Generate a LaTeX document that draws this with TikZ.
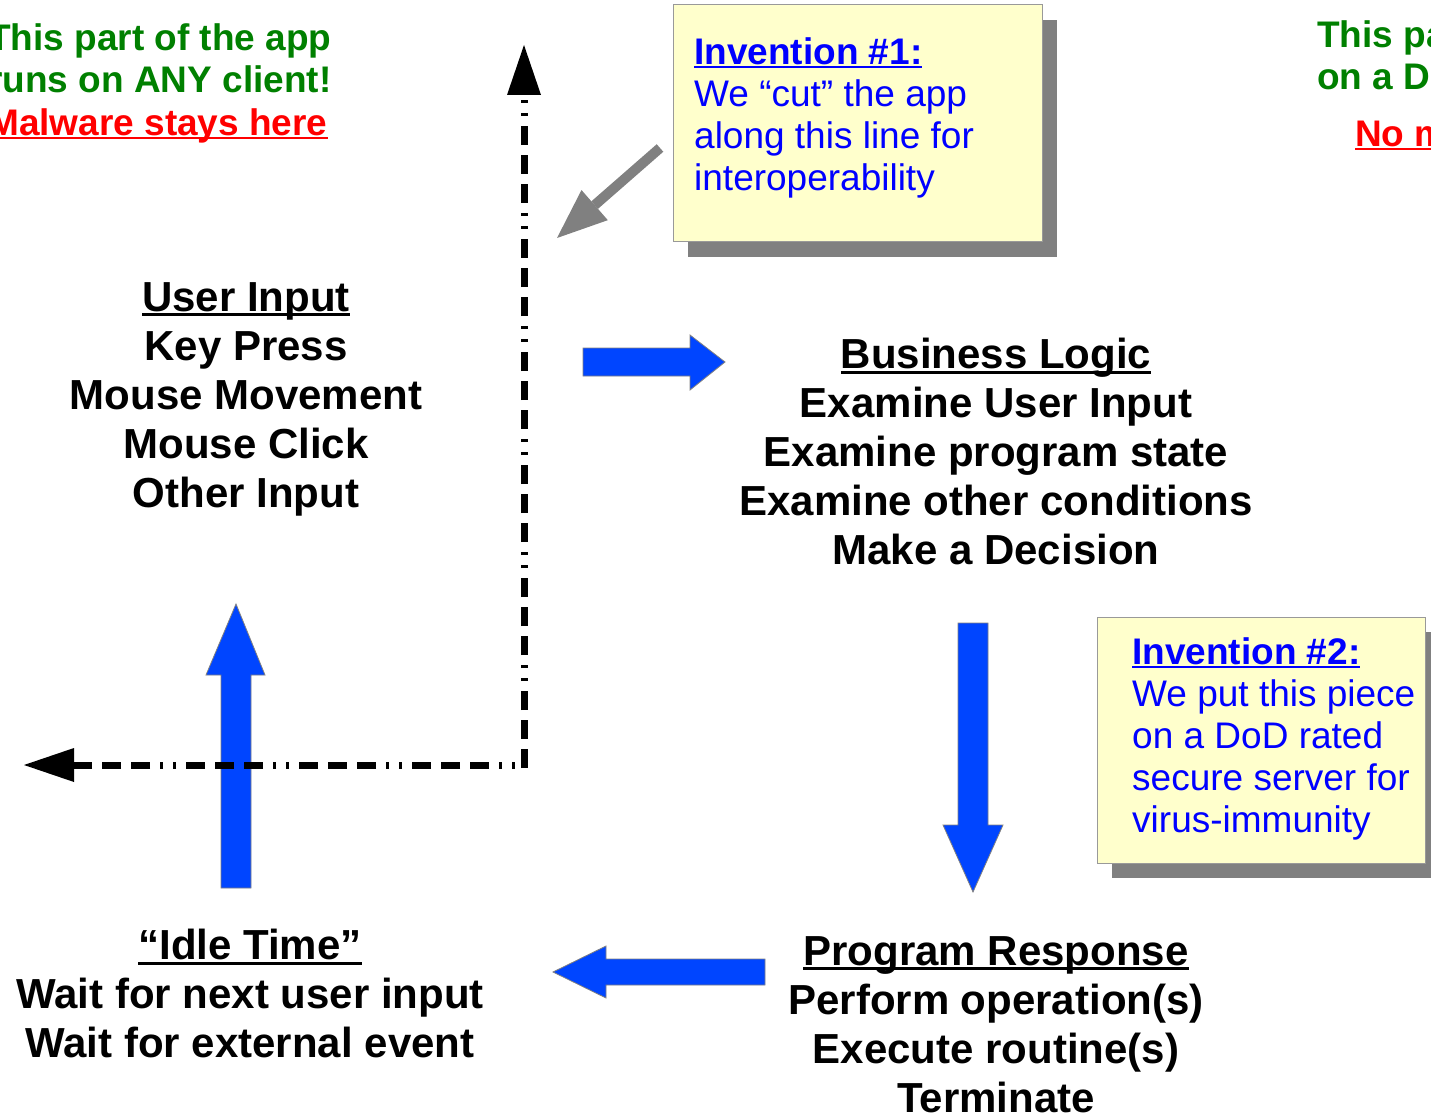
\documentclass[tikz,border=0pt]{standalone}
\usepackage{fontspec}
\setmainfont{Liberation Sans}
\usetikzlibrary{arrows.meta,shadows}
\definecolor{topgreen}{RGB}{0,128,0}
\definecolor{topred}{RGB}{255,0,0}
\definecolor{noteyellow}{RGB}{255,255,204}
\definecolor{shadowgray}{RGB}{128,128,128}
\definecolor{arrowblue}{RGB}{0,69,255}
\definecolor{noteblue}{RGB}{0,0,255}
\newcommand{\myul}[1]{\leavevmode\setbox0=\hbox{#1}\rlap{\rule[-0.12em]{\wd0}{0.07em}}\box0}
\begin{document}
\begin{tikzpicture}[x=1pt,y=-1pt,
  main/.style={font=\fontsize{42}{49}\selectfont\bfseries, align=center, inner sep=0pt, anchor=north},
  toptext/.style={font=\fontsize{37}{42.5}\selectfont\bfseries, align=left, inner sep=0pt, anchor=north west},
  notebox/.style={draw=gray!80, fill=noteyellow, line width=1pt, inner sep=0pt, outer sep=0pt, anchor=north west,
    drop shadow={shadow xshift=15pt, shadow yshift=-15pt, fill=shadowgray, opacity=1}},
  notetext/.style={font=\fontsize{37}{42}\selectfont, text=noteblue, align=left, inner sep=0pt, anchor=north west},
  blockarrow/.style={fill=arrowblue, draw=gray, line width=0.8pt},
  cutline/.style={line width=7pt, dash pattern=on 19pt off 10pt on 19pt off 10pt on 19pt off 10pt on 3pt off 10pt on 3pt off 10pt,
    -{Triangle[length=50pt,width=34pt,line width=0pt]}},
  pointer/.style={draw=shadowgray, line width=10pt, -{Triangle[length=50pt,width=40pt,line width=0pt]}}
]
\useasboundingbox (0,0) rectangle (1431,1115);
\fill[white] (0,0) rectangle (1431,1115);
\clip (0,0) rectangle (1431,1115);

% top notes
\node[toptext, text=topgreen] (clientnote) at (-12,23)
  {This part of the app\\runs on ANY client!\\\textcolor{topred}{\myul{Malware stays here}}};
\node[toptext, text=topgreen] (servernote) at (1317,20) {This part runs\\on a DoD server!};
\node[toptext, text=topred] (nomalware) at (1355,119) {\myul{No malware here!}};

% invention notes
\node[notebox, minimum width=369pt, minimum height=237pt] (inv1box) at (673,5) {};
\node[notetext] (inv1) at (694,37)
  {\textbf{\myul{Invention \#1:}}\\We “cut” the app\\along this line for\\interoperability};
\node[notebox, minimum width=328pt, minimum height=246pt] (inv2box) at (1097,617) {};
\node[notetext] (inv2) at (1132,637)
  {\textbf{\myul{Invention \#2:}}\\We put this piece\\on a DoD rated\\secure server for\\virus-immunity};

% main blocks
\node[main] (userinput) at (246,282)
  {\myul{User Input}\\Key Press\\Mouse Movement\\Mouse Click\\Other Input};
\node[main] (logic) at (996,338)
  {\myul{Business Logic}\\Examine User Input\\Examine program state\\Examine other conditions\\Make a Decision};
\node[main] (idle) at (250,929)
  {\myul{“Idle Time”}\\Wait for next user input\\Wait for external event};
\node[main] (response) at (996,936)
  {\myul{Program Response}\\Perform operation(s)\\Execute routine(s)\\Terminate};

% block arrows
\coordinate (rtail) at (583,362); \coordinate (rtip) at (725,362);
\filldraw[blockarrow] (583,348) -- (690,348) -- (690,335) -- (rtip) -- (690,390) -- (690,376) -- (583,376) -- cycle;
\coordinate (dtail) at (973,623); \coordinate (dtip) at (973,892);
\filldraw[blockarrow] (958,623) -- (988,623) -- (988,825) -- (1003,825) -- (dtip) -- (943,825) -- (958,825) -- cycle;
\coordinate (ltail) at (765,972); \coordinate (ltip) at (553,972);
\filldraw[blockarrow] (765,959) -- (606,959) -- (606,946) -- (ltip) -- (606,998) -- (606,985) -- (765,985) -- cycle;
\coordinate (utail) at (236,888); \coordinate (utip) at (236,604);
\filldraw[blockarrow] (221,888) -- (251,888) -- (251,675) -- (265,675) -- (utip) -- (206,675) -- (221,675) -- cycle;

% cut line
\coordinate (cutcorner) at (524,768);
\coordinate (cuthcorner) at (524,765);
\coordinate (cuttop) at (524,45);
\coordinate (cutleft) at (24,765);
\draw[cutline] (cutcorner) -- (cuttop);
\draw[cutline, dash phase=78pt] (cuthcorner) -- (cutleft);

% pointer from note 1 to cut line
\coordinate (ptail) at (660,148);
\coordinate (ptip) at (557,238);
\draw[pointer] (ptail) -- (ptip);
\end{tikzpicture}
\end{document}
